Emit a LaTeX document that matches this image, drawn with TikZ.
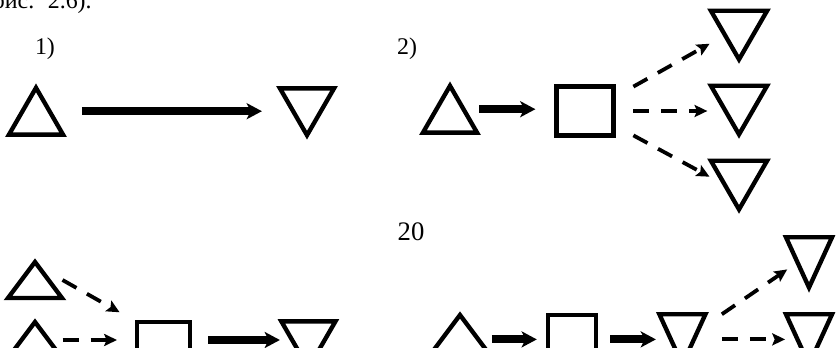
\documentclass[tikz,border=0pt]{standalone}
\usepackage{fontspec}
\setmainfont{Liberation Serif}
\usetikzlibrary{shapes.geometric,arrows.meta,calc}

\begin{document}
\begin{tikzpicture}[
  tri/.style={regular polygon, regular polygon sides=3, draw, line width=3.1pt,
              inner sep=0pt, outer sep=0pt, minimum size=1.56cm},
  src/.style={tri},
  sink/.style={tri, shape border rotate=180},
  flat/.style={yscale=0.77, transform shape},
  tall/.style={minimum size=1.33cm, yscale=1.26, transform shape},
  proc/.style={draw, line width=3.1pt, minimum width=1.42cm, minimum height=1.22cm,
               inner sep=0pt, outer sep=0pt},
  mainflow/.style={line width=5.7pt, -{Stealth[length=0.38cm,width=0.4cm,inset=0.1cm]}},
  sideflow/.style={line width=2.7pt, dash pattern=on 0.4cm off 0.3cm,
                   -{Stealth[length=0.32cm,width=0.3cm,inset=0.06cm]}},
  lbl/.style={font=\fontsize{17}{20}\selectfont}
]
  \clip (0,0) rectangle (20.9,8.675);

  % captions
  \node[lbl, anchor=base west] (cap) at (-0.3,8.47) {рис.\hspace{0.14cm} 2.6).};
  \node[lbl] (n1) at (1.125,7.45) {1)};
  \node[lbl] (n2) at (10.175,7.45) {2)};
  \node[font=\fontsize{19}{22}\selectfont] (pg) at (10.275,2.875) {20};

  % 1)
  \node[src]  (a1) at (0.9,5.7) {};
  \node[sink] (b1) at (7.675,6.075) {};
  \draw[mainflow, shorten <=0.81cm, shorten >=0.79cm] (a1.side 3) -- (a1.side 3 -| b1.side 3);

  % 2)
  \node[src]  (a2) at (11.25,5.75) {};
  \node[proc] (p2) at (14.625,5.9) {};
  \node[sink, minimum size=1.62cm] (b2) at (18.475,8.0) {};
  \node[sink, minimum size=1.62cm] (c2) at (18.475,6.125) {};
  \node[sink, minimum size=1.62cm] (d2) at (18.475,4.25) {};
  \draw[mainflow, shorten <=0.39cm, shorten >=0.53cm] (a2.side 3) -- (a2.side 3 -| p2.west);
  \draw[sideflow, shorten >=0.44cm] ([xshift=0.5cm]p2.north east) -- (b2.side 3);
  \draw[sideflow, shorten >=0.44cm] ([xshift=0.5cm]p2.east) -- (p2.east -| c2.side 3);
  \draw[sideflow, shorten >=0.44cm] ([xshift=0.5cm]p2.south east) -- (d2.side 3);

  % 3)
  \node[src, flat] (a3) at (0.875,1.525) {};
  \node[src, flat] (e3) at (0.875,0.025) {};
  \node[proc, minimum width=1.33cm] (p3) at (4.09,0.0125) {};
  \node[sink] (b3) at (7.71,0.25) {};
  \draw[sideflow, shorten >=0.5cm] ([xshift=0.35cm]a3.side 3) -- (p3.north west);
  \draw[sideflow, shorten >=0.5cm] ([xshift=0.35cm]e3.side 3) -- (e3.side 3 -| p3.west);
  \draw[mainflow, shorten <=0.45cm, shorten >=0.375cm] (p3.east |- e3.side 3) -- (e3.side 3 -| b3.side 3);

  % 4)
  \node[src, flat] (a4) at (11.5,0.2) {};
  \node[proc, minimum width=1.2cm] (p4) at (14.3,0.19) {};
  \node[sink, tall] (b4) at (17.06,0.4) {};
  \node[sink, tall] (c4) at (20.225,2.325) {};
  \node[sink, tall] (d4) at (20.225,0.4) {};
  \draw[mainflow, shorten <=0.46cm, shorten >=0.28cm] (a4.side 3 |- p4.west) -- (p4.west);
  \draw[mainflow, shorten <=0.35cm, shorten >=0.375cm] (p4.east) -- (p4.east -| b4.side 3);
  \draw[sideflow, shorten >=0.31cm] ([xshift=0.41cm]b4.corner 2) -- (c4.side 3);
  \draw[sideflow, shorten >=0.31cm] ([xshift=0.7cm]b4.side 1) -- (b4.side 1 -| d4.side 3);
\end{tikzpicture}
\end{document}
